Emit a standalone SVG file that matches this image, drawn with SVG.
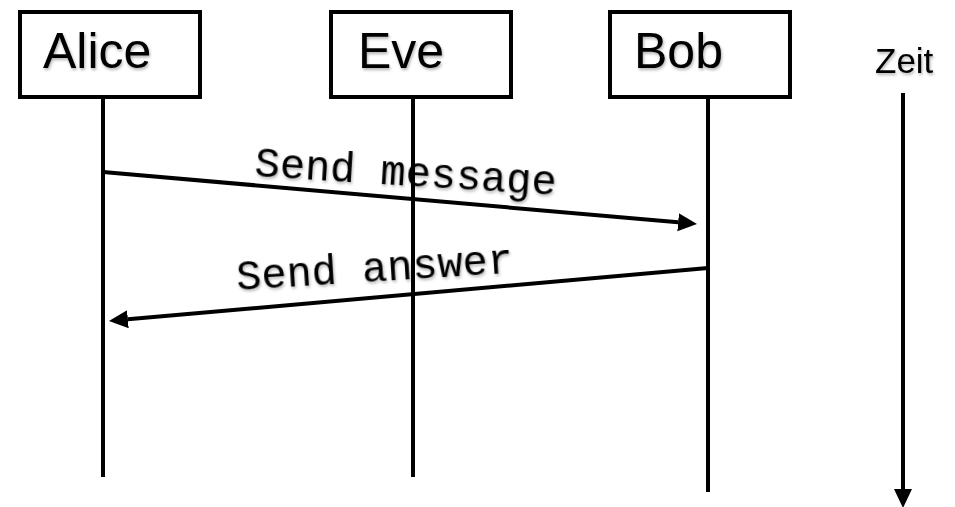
<svg xmlns="http://www.w3.org/2000/svg" width="955" height="507" viewBox="0 0 955 507">
  <defs>
    <filter id="sh" x="-10%" y="-30%" width="130%" height="170%">
      <feDropShadow dx="1" dy="2" stdDeviation="1.5" flood-color="#000" flood-opacity="0.3"/>
    </filter>
    <marker id="ah" markerUnits="userSpaceOnUse" markerWidth="20" markerHeight="19" refX="0" refY="9" orient="auto">
      <path d="M0,0 L19,9 L0,18 z" fill="#000"/>
    </marker>
  </defs>
  <style>
    .box { fill: #fff; stroke: #000; stroke-width: 4; }
    .name { font-family: "Liberation Sans", Arial, sans-serif; font-size: 50px; fill: #000; filter: url(#sh); }
    .zeit { font-family: "Liberation Sans", Arial, sans-serif; font-size: 35px; fill: #000; filter: url(#sh); }
    .msg { font-family: "Liberation Mono", "Courier New", monospace; font-size: 42px; fill: #000; filter: url(#sh); }
    .life { stroke: #000; stroke-width: 4; fill: none; }
    .arrow { stroke: #000; stroke-width: 4; fill: none; marker-end: url(#ah); }
  </style>
  <rect width="955" height="507" fill="#fff"/>

  <g id="connectors">
    <line class="life" x1="103" y1="97" x2="103" y2="477"/>
    <line class="life" x1="413" y1="97" x2="413" y2="477"/>
    <line class="life" x1="708" y1="97" x2="708" y2="492"/>
    <line class="arrow" x1="103" y1="172" x2="678.1" y2="222.3"/>
    <line class="arrow" x1="708" y1="268" x2="127.9" y2="319.3"/>
    <line class="arrow" x1="903" y1="93" x2="903" y2="489"/>
    <text class="msg" transform="translate(254,176) rotate(3.6)">Send message</text>
    <text class="msg" transform="translate(237,290) rotate(-3.6)">Send answer</text>
  </g>

  <g id="alice">
    <rect class="box" x="20" y="12" width="180" height="85"/>
    <text class="name" x="43" y="68">Alice</text>
  </g>
  <g id="eve">
    <rect class="box" x="331" y="12" width="180" height="85"/>
    <text class="name" x="358" y="68">Eve</text>
  </g>
  <g id="bob">
    <rect class="box" x="610" y="12" width="180" height="85"/>
    <text class="name" x="634" y="68">Bob</text>
  </g>
  <g id="zeit">
    <text class="zeit" x="875" y="73">Zeit</text>
  </g>
</svg>
